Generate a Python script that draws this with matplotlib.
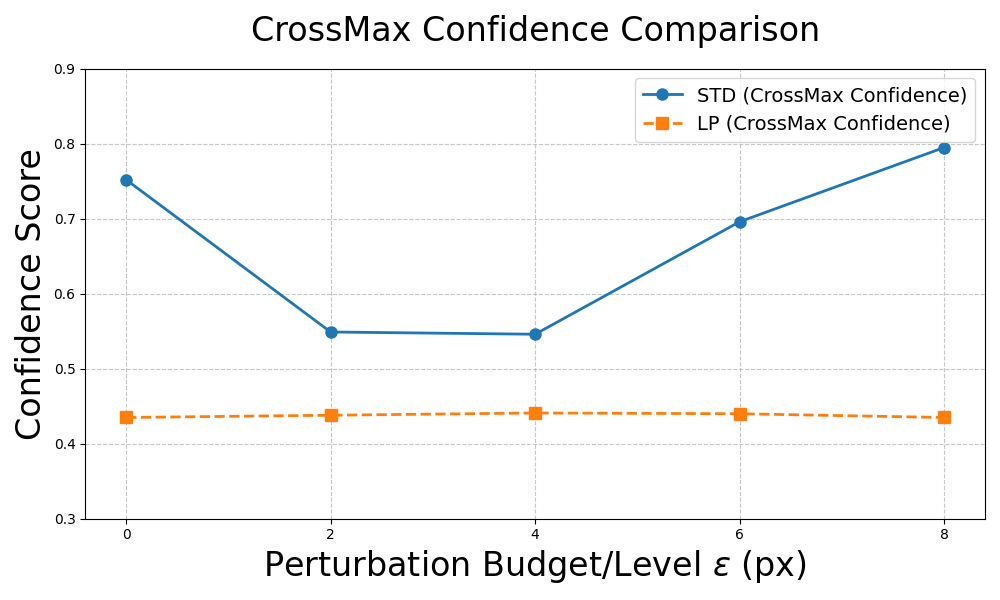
import numpy as np
import matplotlib
matplotlib.use("Agg")
import matplotlib.pyplot as plt

# data
eps_levels = [0, 2, 4, 6, 8]
std_conf = [0.752, 0.549, 0.546, 0.696, 0.795]
lp_conf = [0.435, 0.438, 0.441, 0.440, 0.435]

fig, ax = plt.subplots(figsize=(10, 6), dpi=100)
ax.plot(eps_levels, std_conf, marker="o", linestyle="-", linewidth=2, markersize=8,
        color="#1f77b4", label="STD (CrossMax Confidence)")
ax.plot(eps_levels, lp_conf, marker="s", linestyle="--", linewidth=2, markersize=8,
        color="#ff7f0e", label="LP (CrossMax Confidence)")

ax.set_title("CrossMax Confidence Comparison", fontsize=24, pad=20)
ax.set_xlabel(r"Perturbation Budget/Level $\epsilon$ (px)", fontsize=24)
ax.set_ylabel("Confidence Score", fontsize=24)
ax.set_ylim(0.3, 0.9)
ax.set_xticks(eps_levels)
ax.grid(True, linestyle="--", alpha=0.7)
ax.legend(fontsize=14, loc="upper right")

plt.tight_layout()
plt.savefig("out.png")
